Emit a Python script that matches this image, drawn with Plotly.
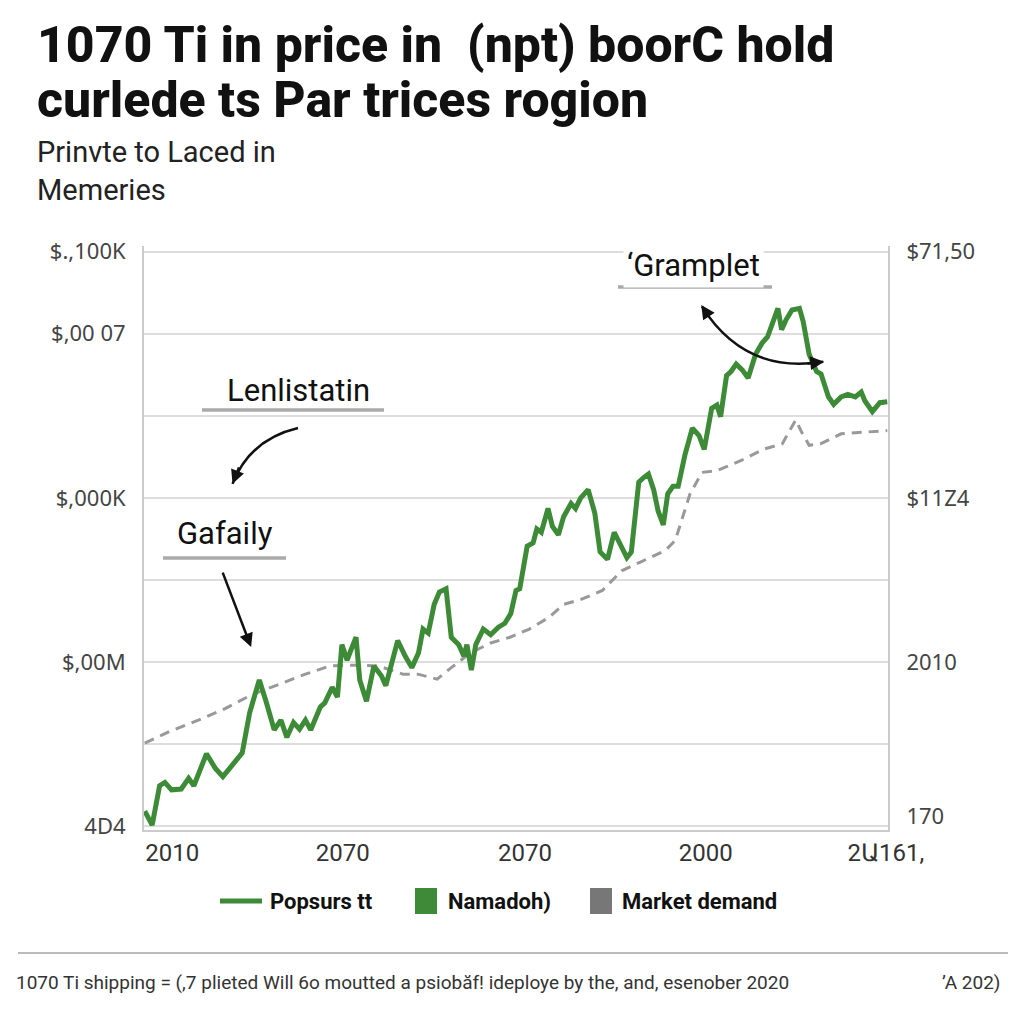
import plotly.graph_objects as go

# ---------------- data ----------------
green_x = [0.1, 1.1, 2.1, 2.8, 3.7, 5.0, 6.0, 6.7, 8.4, 9.6, 10.6, 11.6, 13.2, 14.2, 15.2, 15.5,
           16.4, 17.5, 18.4, 19.2, 20.1, 20.9, 21.7, 22.4, 23.7, 24.3, 25.3, 26.0, 26.6, 27.3,
           27.8, 28.5, 29.0, 29.9, 30.9, 31.9, 32.5, 33.2, 34.1, 35.1, 36.0, 36.9, 37.5, 38.2,
           39.0, 39.7, 40.6, 41.3, 42.3, 43.0, 43.4, 44.0, 44.6, 45.6, 46.6, 47.6, 48.5, 49.3,
           50.0, 50.5, 51.5, 52.3, 52.8, 53.4, 54.3, 54.9, 55.7, 56.4, 57.4, 58.0, 58.7, 59.7,
           60.6, 61.3, 62.3, 63.2, 63.9, 64.9, 65.5, 66.5, 67.2, 67.8, 68.5, 69.1, 69.8, 70.4,
           71.1, 71.8, 72.7, 73.7, 74.6, 75.3, 76.3, 77.0, 77.5, 78.3, 78.9, 79.6, 80.4, 81.2,
           82.2, 83.1, 83.8, 84.4, 85.2, 85.7, 86.3, 87.1, 88.1, 88.6, 89.4, 90.4, 91.0, 92.0,
           92.7, 93.7, 94.6, 95.6, 96.4, 96.9, 97.9, 98.9, 99.9]
green_y = [0.18, 0.01, 0.49, 0.53, 0.44, 0.45, 0.58, 0.49, 0.88, 0.70, 0.60, 0.71, 0.89, 1.38, 1.71, 1.78,
           1.52, 1.17, 1.29, 1.08, 1.26, 1.18, 1.29, 1.17, 1.45, 1.50, 1.69, 1.57, 2.21, 2.02,
           2.14, 2.30, 1.78, 1.52, 1.95, 1.83, 1.71, 1.93, 2.26, 2.07, 1.93, 2.11, 2.40, 2.35,
           2.70, 2.85, 2.89, 2.30, 2.21, 2.07, 2.21, 1.90, 2.21, 2.40, 2.33, 2.42, 2.47, 2.59,
           2.87, 2.89, 3.41, 3.45, 3.62, 3.58, 3.87, 3.65, 3.55, 3.77, 3.93, 3.87, 4.00, 4.10,
           3.81, 3.34, 3.25, 3.58, 3.46, 3.27, 3.34, 4.19, 4.25, 4.29, 4.10, 3.84, 3.67, 4.05,
           4.14, 4.14, 4.52, 4.85, 4.76, 4.59, 5.09, 5.13, 4.99, 5.49, 5.54, 5.63, 5.56, 5.46,
           5.75, 5.89, 5.96, 6.13, 6.31, 6.05, 6.17, 6.29, 6.31, 6.15, 5.75, 5.54, 5.51, 5.23,
           5.14, 5.23, 5.26, 5.23, 5.29, 5.18, 5.05, 5.16, 5.17]

gray_x = [0.1, 3.4, 7.3, 10.9, 14.5, 18.4, 21.7, 25.0, 28.3, 31.5, 34.8, 36.8, 39.4, 41.3,
          43.9, 46.6, 49.2, 51.8, 54.4, 56.4, 59.0, 61.6, 64.2, 66.8, 70.1, 71.4, 72.4, 73.4,
          75.0, 77.0, 78.3, 80.6, 83.2, 85.8, 87.6, 88.4, 89.4, 91.0, 93.7, 96.3, 99.9]
gray_y = [1.01, 1.15, 1.29, 1.43, 1.60, 1.74, 1.85, 1.95, 1.96, 1.95, 1.85, 1.85, 1.79, 1.93,
          2.11, 2.23, 2.30, 2.40, 2.54, 2.70, 2.77, 2.87, 3.11, 3.22, 3.36, 3.48, 3.77, 4.05,
          4.31, 4.33, 4.38, 4.47, 4.59, 4.66, 4.95, 4.80, 4.64, 4.66, 4.78, 4.80, 4.82]

x_tick_vals = [3.8, 26.7, 51.2, 75.5, 99.7]
x_tick_text = ["2010", "2070", "2070", "2000", "2Ա161,"]

left_tick_vals = [0, 1, 2, 3, 4, 5, 6, 7]
left_tick_text = ["4D4", "", "$,00M", "", "$,000K", "", "$,00 07", "$.,100K"]

right_tick_vals = [0.12, 2, 4, 7]
right_tick_text = ["170", "2010", "$11Z4", "$71,50"]

legend_labels = ["Popsurs tt", "Namadoh)", "Market demand"]

# ---------------- styling ----------------
GREEN = "#3d8b37"
GRAY = "#999999"
NARROW = "Roboto, sans-serif"
WIDE = "Noto Sans, DejaVu Sans, sans-serif"

# page has an 8px body margin: work in screen pixels, size figure to fit
OFF = 8
W = 1024 - OFF
L, R, T, B = 144, 888, 246, 830


def pxx(x):
    return (x - L) / (R - L)


def pxy(y):
    return (B - y) / (B - T)


fig = go.Figure()
fig.add_trace(go.Scatter(x=gray_x, y=gray_y, mode="lines",
                         line=dict(color=GRAY, width=3, dash="10px,7px"),
                         showlegend=False, hoverinfo="skip"))
fig.add_trace(go.Scatter(x=green_x, y=green_y, mode="lines", yaxis="y2",
                         line=dict(color=GREEN, width=5),
                         showlegend=False, hoverinfo="skip"))

yr = [-0.05, 7.07]
fig.update_layout(
    width=W, height=W,
    margin=dict(l=L - OFF, r=W - (R - OFF), t=T - OFF, b=W - (B - OFF)),
    paper_bgcolor="white", plot_bgcolor="white",
    showlegend=False,
    xaxis=dict(range=[0, 100], tickvals=x_tick_vals, ticktext=x_tick_text,
               showgrid=False, zeroline=False, showline=True, linecolor="#cccccc",
               linewidth=2, ticks="", tickfont=dict(family=NARROW, size=24, color="#333333"),
               ticklabelstandoff=0),
    yaxis=dict(range=yr, tickvals=left_tick_vals, ticktext=left_tick_text,
               showgrid=True, gridcolor="#dddddd", gridwidth=1.5, zeroline=False,
               showline=True, linecolor="#cccccc", linewidth=2, ticks="",
               tickfont=dict(family=WIDE, size=22, color="#444444"), ticklabelstandoff=12),
    yaxis2=dict(range=yr, overlaying="y", side="right", tickvals=right_tick_vals,
                ticktext=right_tick_text, showgrid=False, zeroline=False,
                showline=True, linecolor="#cccccc", linewidth=2, ticks="",
                tickfont=dict(family=WIDE, size=22, color="#444444"), ticklabelstandoff=12),
)

shapes = []
# black reference line
shapes.append(dict(type="line", xref="paper", yref="y", x0=0, x1=1, y0=4, y1=4,
                   line=dict(color="#111111", width=1.5), layer="below"))
# annotation underlines
for (x0, x1, y) in [(202, 384, 410), (163, 286, 558), (618, 772, 287)]:
    shapes.append(dict(type="line", xref="paper", yref="paper", x0=pxx(x0), x1=pxx(x1),
                       y0=pxy(y), y1=pxy(y), line=dict(color="#aaaaaa", width=3.5)))
# curved arrows
shapes.append(dict(type="path", xref="x", yref="y",
                   path="M 20.7,4.85 Q 14.2,4.71 11.9,4.17",
                   line=dict(color="#111111", width=2.5)))
shapes.append(dict(type="path", xref="x", yref="y",
                   path="M 75.0,6.33 Q 80.8,5.50 91.3,5.66",
                   line=dict(color="#111111", width=2.5)))
# legend swatches
shapes.append(dict(type="line", xref="paper", yref="paper", x0=pxx(220), x1=pxx(262),
                   y0=pxy(901), y1=pxy(901), line=dict(color=GREEN, width=5)))
shapes.append(dict(type="rect", xref="paper", yref="paper", x0=pxx(415), x1=pxx(437),
                   y0=pxy(914), y1=pxy(888), fillcolor=GREEN, line=dict(width=0)))
shapes.append(dict(type="rect", xref="paper", yref="paper", x0=pxx(590), x1=pxx(612),
                   y0=pxy(914), y1=pxy(888), fillcolor="#777777", line=dict(width=0)))
# footer rule
shapes.append(dict(type="line", xref="paper", yref="paper", x0=pxx(18), x1=pxx(1008),
                   y0=pxy(953), y1=pxy(953), line=dict(color="#bbbbbb", width=2)))
fig.update_layout(shapes=shapes)

ann = []


def txt(text, x, y, size, family=NARROW, weight=400, color="#111111", xanchor="left", **kw):
    ann.append(dict(text=text, xref="paper", yref="paper", x=pxx(x), y=pxy(y),
                    xanchor=xanchor, yanchor="middle", showarrow=False,
                    font=dict(family=family, size=size, color=color, weight=weight), **kw))


txt("1070 Ti in price in  (npt) boorC hold", 35, 45, 50, weight=800)
txt("curlede ts Par trices rogion", 35, 100, 50, weight=800)
txt("Prinvte to Laced in", 35, 152, 29, color="#222222")
txt("Memeries", 35, 190, 29, color="#222222")

txt("Lenlistatin", 298, 390, 31, xanchor="center")
txt("Gafaily", 225, 533, 31, xanchor="center")
txt("\u2018Gramplet", 693, 265, 31, xanchor="center", bgcolor="white", borderpad=3)

txt(legend_labels[0], 268, 901, 22, weight=700)
txt(legend_labels[1], 446, 901, 22, weight=700)
txt(legend_labels[2], 620, 901, 22, weight=700)

txt("1070 Ti shipping = (,7 plieted Will 6o moutted a psiob\u0103f! ideploye by the, and, esenober 2020",
    14, 982, 19, color="#333333")
txt("\u02bcA 202)", 1002, 982, 19, color="#333333", xanchor="right")

# arrowheads
for (x, y, ax, ay) in [(11.9, 4.17, 7, -18), (74.9, 6.35, 8, 12), (91.4, 5.66, -18, 2),
                       (14.4, 2.18, -29, -76)]:
    ann.append(dict(x=x, y=y, xref="x", yref="y", text="", showarrow=True, ax=ax, ay=ay,
                    arrowhead=2, arrowsize=1.1, arrowwidth=2.5, arrowcolor="#111111"))

fig.update_layout(annotations=ann)
fig.write_html("out.html")
